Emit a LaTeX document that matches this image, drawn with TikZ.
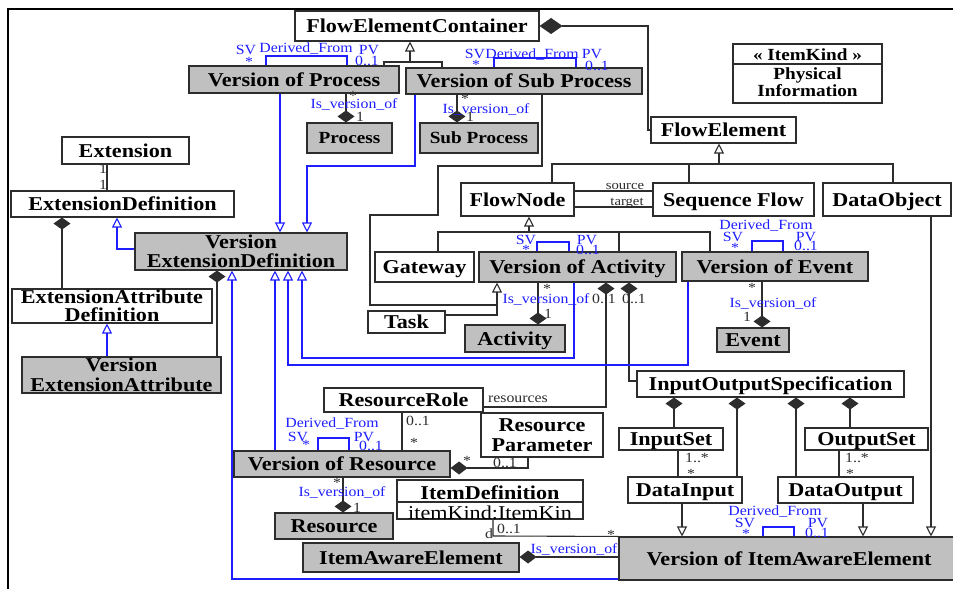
\documentclass[tikz,border=0pt]{standalone}
\usepackage{fontspec}
\setmainfont{Liberation Serif}[FakeStretch=1.13]
\usetikzlibrary{arrows.meta}

\definecolor{boxgray}{RGB}{192,192,192}
\definecolor{umlblue}{RGB}{30,30,255}
\definecolor{linegray}{RGB}{45,45,45}

\tikzset{
  GT/.tip={Triangle[open,length=10pt,width=10pt]},
  VD/.tip={Diamond[length=12pt,width=17pt]},
  HD/.tip={Diamond[length=17pt,width=13pt]},
  HDL/.tip={Diamond[length=23pt,width=16pt]},
  sz/.style 2 args={minimum width=#1pt, minimum height=#2pt},
  cls/.style={draw=linegray, line width=1.1pt, fill=white, inner sep=0pt,
    text=black, font={\bfseries\fontsize{19.6}{19}\selectfont},
    text height=13pt, text depth=0pt},
  ver/.style={cls, fill=boxgray},
  smallname/.style={font={\bfseries\fontsize{17}{17}\selectfont}, text height=11.3pt},
  two/.style={align=center, text height={}, text depth={}},
  twotight/.style={two, font={\bfseries\fontsize{19.6}{17.5}\selectfont}},
  twowide/.style={two, font={\bfseries\fontsize{19.6}{20}\selectfont}},
  kindtxt/.style={inner sep=0pt, text=black, font={\bfseries\fontsize{17}{17}\selectfont},
    text height=11.3pt, text depth=0pt},
  nametxt/.style={inner sep=0pt, text=black, font={\bfseries\fontsize{19.6}{19}\selectfont},
    text height=13pt, text depth=0pt},
  attrtxt/.style={inner sep=0pt, text=black, font={\fontsize{19.6}{19}\selectfont},
    text height=13pt, text depth=0pt},
  blk/.style={draw=linegray, line width=1.1pt},
  blu/.style={draw=umlblue, line width=1.1pt},
  lbl/.style={inner sep=0pt, text=umlblue, font={\fontsize{14}{14}\selectfont},
    text height=9.3pt, text depth=0pt},
  mult/.style={inner sep=0pt, text=linegray, font={\fontsize{14}{14}\selectfont},
    text height=9.3pt, text depth=0pt},
  role/.style={inner sep=0pt, text=linegray, font={\fontsize{13}{13}\selectfont},
    text height=8.6pt, text depth=0pt},
  frame/.style={draw=black, line width=2pt},
}

\begin{document}
\begin{tikzpicture}[x=1pt,y=-1pt]
\useasboundingbox (0,0) rectangle (953,589);
\draw[frame] (8,589) -- (8,9) -- (953,9);

% ---------- classes ----------
\node[cls,sz={244}{30}] (fec) at (417,26) {FlowElementContainer};
\node[ver,sz={210}{27}] (vop) at (294,79.5) {Version of Process};
\node[ver,sz={236}{26}] (vosp) at (524,81) {Version of Sub Process};
\node[ver,smallname,sz={85}{30}] (proc) at (349.5,138) {Process};
\node[ver,smallname,sz={118}{30}] (subp) at (479,138) {Sub Process};

\node[cls,sz={149}{59}] (itemkind) at (807.5,73.5) {};
\draw[blk] (itemkind.west |- 0,64) -- (itemkind.east |- 0,64);
\node[kindtxt] (ikhead) at (807.5,54.5) {« ItemKind »};
\node[kindtxt] (ikphys) at (807.5,74) {Physical};
\node[kindtxt] (ikinfo) at (807.5,91) {Information};

\node[cls,sz={145}{26}] (flowel) at (723.5,130) {FlowElement};
\node[cls,sz={127}{27}] (ext) at (125.5,150.5) {Extension};
\node[cls,sz={223}{26}] (extdef) at (122.5,204) {ExtensionDefinition};
\node[ver,two,sz={212}{37}] (ved) at (241,251.5) {Version\\ExtensionDefinition};
\node[cls,twotight,sz={200}{34}] (extattrdef) at (112,306) {ExtensionAttribute\\Definition};
\node[ver,twowide,sz={199}{36}] (vea) at (121.5,375) {Version\\ExtensionAttribute};

\node[cls,sz={113}{33}] (flownode) at (517.5,199.5) {FlowNode};
\node[cls,sz={161}{33}] (seqflow) at (733.5,199.5) {Sequence Flow};
\node[cls,sz={128}{33}] (dataobj) at (887,199.5) {DataObject};
\node[cls,sz={99}{30}] (gateway) at (424.5,267) {Gateway};
\node[ver,sz={197}{30}] (voa) at (577.5,267) {Version of Activity};
\node[ver,sz={186}{29}] (voe) at (775,266.5) {Version of Event};
\node[cls,sz={77}{22}] (task) at (406.5,322) {Task};
\node[ver,sz={100}{27}] (activity) at (515,338.5) {Activity};
\node[ver,sz={72}{24}] (event) at (753,340) {Event};

\node[cls,sz={159}{24}] (resrole) at (403.5,400) {ResourceRole};
\node[cls,twowide,sz={122}{44}] (respar) at (542,435) {Resource\\Parameter};
\node[ver,sz={216}{26}] (vor) at (342,464) {Version of Resource};
\node[ver,sz={118}{26}] (resource) at (334,526) {Resource};

\node[cls,sz={186}{39}] (itemdef) at (490,499.5) {};
\draw[blk] (itemdef.west |- 0,502) -- (itemdef.east |- 0,502);
\node[nametxt] (idname) at (490,492.5) {ItemDefinition};
\node[attrtxt] (idattr) at (490,512.5) {itemKind:ItemKin};
\node[ver,sz={216}{29}] (iae) at (411,557.5) {ItemAwareElement};

\node[cls,sz={267}{26}] (ios) at (770.5,384) {InputOutputSpecification};
\node[cls,sz={104}{22}] (inputset) at (671,439) {InputSet};
\node[cls,sz={123}{22}] (outputset) at (866.5,439) {OutputSet};
\node[cls,sz={114}{26}] (datainput) at (685,490) {DataInput};
\node[cls,sz={135}{26}] (dataoutput) at (845.5,490) {DataOutput};
\node[ver,sz={340}{43}] (voiae) at (789,558.5) {Version of ItemAwareElement};

% ---------- black associations, compositions, generalisations ----------
\draw[blk,HDL-] (fec.east) -- (648,26) |- (flowel.west);

\coordinate (fecbar) at (410,62);
\draw[blk] (vop.north -| 384,0) |- (fecbar) -| (vosp.north -| 442,0);
\draw[blk,-GT] (fecbar) -- (fec.south -| fecbar);

\draw[blk,VD-] (proc.north -| 346,0) -- (vop.south -| 346,0);
\draw[blk,VD-] (subp.north -| 457,0) -- (vosp.south -| 457,0);

\coordinate (actbar) at (497,305);
\draw[blk] (vosp.south -| 542,0) -- (542,166) -- (438,166) -- (438,215)
  -- (370,215) -- (370,305) -- (actbar);
\draw[blk,-GT] (task.east |- 0,315) -- (497,315) -- (voa.south -| 497,0);

\draw[blk,-GT] (719,164) -- (flowel.south -| 719,0);
\draw[blk] (flownode.north -| 552,0) -- (552,164) -- (893,164) -- (dataobj.north -| 893,0);
\draw[blk] (689,164) -- (seqflow.north -| 689,0);

\draw[blk] (flownode.east |- 0,191) -- (seqflow.west |- 0,191);
\draw[blk] (flownode.east |- 0,207) -- (seqflow.west |- 0,207);
\node[role] (lsource) at (625,185.5) {source};
\node[role] (ltarget) at (627,201.5) {target};

\draw[blk,-GT] (529,232) -- (flownode.south -| 529,0);
\draw[blk] (gateway.north -| 438,0) -- (438,232) -- (710,232) -- (voe.north -| 710,0);
\draw[blk] (619,232) -- (voa.north -| 619,0);

\draw[blk,VD-] (activity.north -| 538,0) -- (voa.south -| 538,0);
\draw[blk,VD-] (voa.south -| 606,0) -- (606,407) -- (resrole.east |- 0,407);
\draw[blk,VD-] (voa.south -| 629,0) -- (629,381) -- (ios.west |- 0,381);
\draw[blk,VD-] (event.north -| 762,0) -- (voe.south -| 762,0);

\draw[blk] (ext.south -| 107,0) -- (extdef.north -| 107,0);
\draw[blk,VD-] (extdef.south -| 62,0) -- (extattrdef.north -| 62,0);
\draw[blk,VD-] (ved.south -| 217,0) -- (vea.north -| 217,0);

\draw[blk] (resrole.south -| 402,0) -- (vor.north -| 402,0);
\draw[blk,HD-] (vor.east |- 0,468) -- (528,468) -- (respar.south -| 528,0);
\draw[blk,VD-] (resource.north -| 343,0) -- (vor.south -| 343,0);

\draw[blk] (itemdef.south -| 493,0) -- (493,536) -- (voiae.north west);
\draw[blk,HD-] (iae.east |- 0,557) -- (voiae.west |- 0,557);

\draw[blk,VD-] (ios.south -| 674,0) -- (inputset.north -| 674,0);
\draw[blk,VD-] (ios.south -| 737,0) -- (datainput.north -| 737,0);
\draw[blk,VD-] (ios.south -| 796,0) -- (dataoutput.north -| 796,0);
\draw[blk,VD-] (ios.south -| 850,0) -- (outputset.north -| 850,0);
\draw[blk] (inputset.south -| 678,0) -- (datainput.north -| 678,0);
\draw[blk] (outputset.south -| 839,0) -- (dataoutput.north -| 839,0);
\draw[blk,-GT] (datainput.south -| 682,0) -- (voiae.north -| 682,0);
\draw[blk,-GT] (dataoutput.south -| 863,0) -- (voiae.north -| 863,0);
\draw[blk,-GT] (dataobj.south -| 931,0) -- (voiae.north -| 931,0);

% ---------- blue version links ----------
\draw[blu,-GT] (vop.south -| 280,0) -- (ved.north -| 280,0);
\draw[blu,-GT] (vosp.south -| 415,0) -- (415,166) -- (307,166) -- (ved.north -| 307,0);
\draw[blu,-GT] (ved.west |- 0,249) -- (117,249) -- (extdef.south -| 117,0);
\draw[blu,-GT] (vea.north -| 107,0) -- (extattrdef.south -| 107,0);
\draw[blu,-GT] (voiae.west |- 0,579) -- (232,579) -- (ved.south -| 232,0);
\draw[blu,-GT] (vor.north -| 275,0) -- (ved.south -| 275,0);
\draw[blu,-GT] (voe.south -| 688,0) -- (688,365) -- (288,365) -- (ved.south -| 288,0);
\draw[blu,-GT] (voa.south -| 574,0) -- (574,358) -- (302,358) -- (ved.south -| 302,0);

% Derived_From self links
\draw[blu] (vop.north -| 266,0) |- (347,56) -- (vop.north -| 347,0);
\draw[blu] (vosp.north -| 494,0) |- (576,58) -- (vosp.north -| 576,0);
\draw[blu] (voa.north -| 537,0) |- (569,242) -- (voa.north -| 569,0);
\draw[blu] (voe.north -| 752,0) |- (783,241) -- (voe.north -| 783,0);
\draw[blu] (vor.north -| 318,0) |- (349,438) -- (vor.north -| 349,0);
\draw[blu] (voiae.north -| 763,0) |- (794,527) -- (voiae.north -| 794,0);

% ---------- labels ----------
% Version of Process
\node[lbl] (vopDF) at (306,48) {Derived\_From};
\node[lbl] (vopSV) at (246,50) {SV};
\node[lbl] (vopSt) at (249,62) {*};
\node[lbl] (vopPV) at (369,50) {PV};
\node[lbl] (vopPm) at (367,60.5) {0..1};
\node[lbl] (vopIV) at (354,104) {Is\_version\_of};
\node[mult] (vopSt2) at (353,96) {*};
\node[mult] (vopOne) at (360,116.5) {1};
% Version of Sub Process
\node[lbl] (vospSV) at (475,54) {SV};
\node[lbl] (vospSt) at (476,65) {*};
\node[lbl] (vospDF) at (532,54) {Derived\_From};
\node[lbl] (vospPV) at (592,54) {PV};
\node[lbl] (vospPm) at (597,65.5) {0..1};
\node[lbl] (vospIV) at (486,108.5) {Is\_version\_of};
\node[mult] (vospSt2) at (465,99) {*};
\node[mult] (vospOne) at (470,117) {1};
% Version of Activity
\node[lbl] (voaSV) at (526,240) {SV};
\node[lbl] (voaSt) at (526,250) {*};
\node[lbl] (voaPV) at (587,240) {PV};
\node[lbl] (voaPm) at (588,249.5) {0..1};
\node[lbl] (voaIV) at (546,298.5) {Is\_version\_of};
\node[mult] (voaSt2) at (547,288.5) {*};
\node[mult] (voaOne) at (548,313.5) {1};
\node[mult] (voaPm2) at (604,298.5) {0..1};
\node[mult] (voaPm3) at (634,298.5) {0..1};
% Version of Event
\node[lbl] (voeDF) at (766,225) {Derived\_From};
\node[lbl] (voeSV) at (733,237) {SV};
\node[lbl] (voeSt) at (735,248) {*};
\node[lbl] (voePV) at (806,237) {PV};
\node[lbl] (voePm) at (806,246) {0..1};
\node[lbl] (voeIV) at (773,302.5) {Is\_version\_of};
\node[mult] (voeSt2) at (752,288) {*};
\node[mult] (voeOne) at (747,316.5) {1};
% Extension
\node[mult] (extOneA) at (103,169) {1};
\node[mult] (extOneB) at (103,185) {1};
% Resources
\node[mult] (lres) at (518,397.5) {resources};
\node[mult] (rrPm) at (418,421) {0..1};
\node[mult] (rrSt) at (414,443) {*};
\node[mult] (rpSt) at (467,461) {*};
\node[mult] (rpPm) at (505,462.5) {0..1};
\node[lbl] (vorDF) at (332,423) {Derived\_From};
\node[lbl] (vorSV) at (298,436.5) {SV};
\node[lbl] (vorSt) at (306,445) {*};
\node[lbl] (vorPV) at (364,436.5) {PV};
\node[lbl] (vorPm) at (371,446) {0..1};
\node[lbl] (vorIV) at (342,491.5) {Is\_version\_of};
\node[mult] (vorSt2) at (337,483) {*};
\node[mult] (vorOne) at (357,507.5) {1};
% Item aware elements
\node[mult] (idPm) at (509,529) {0..1};
\node[mult] (idD) at (489,534) {d};
\node[mult] (idSt) at (611,535) {*};
\node[lbl] (iaeIV) at (574,548.5) {Is\_version\_of};
\node[lbl] (voiaeDF) at (775,511) {Derived\_From};
\node[lbl] (voiaeSV) at (745,523) {SV};
\node[lbl] (voiaeSt) at (746,534) {*};
\node[lbl] (voiaePV) at (818,523) {PV};
\node[lbl] (voiaePm) at (817,532.5) {0..1};
% Input / output sets
\node[mult] (isMany) at (697,458) {1..*};
\node[mult] (isSt) at (691,474) {*};
\node[mult] (osMany) at (857,458) {1..*};
\node[mult] (osSt) at (850,474) {*};
\end{tikzpicture}
\end{document}
